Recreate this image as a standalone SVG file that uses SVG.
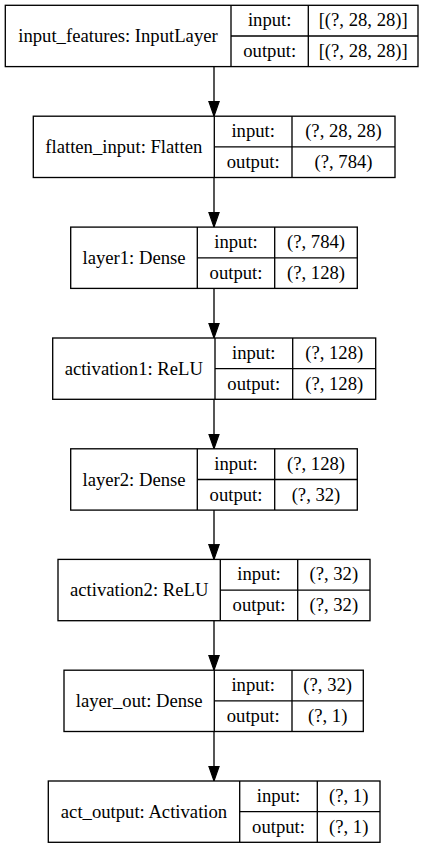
<svg xmlns="http://www.w3.org/2000/svg" width="428" height="848" viewBox="0 0 428 848">
<defs>
<style>
.box{fill:#fff;stroke:#000;stroke-width:1.33}
.ln{stroke:#000;stroke-width:1.33;fill:none}
text{font-family:"Liberation Serif","Times New Roman",serif;font-size:18.67px;fill:#000;text-anchor:middle}
</style>
<marker id="ah" markerUnits="userSpaceOnUse" markerWidth="16" markerHeight="12" refX="13.33" refY="4.67" orient="auto" viewBox="0 0 14 9.34">
<path d="M0,0 L13.33,4.67 L0,9.33 Z" fill="#000" stroke="#000" stroke-width="1"/>
</marker>
</defs>
<rect width="428" height="848" fill="#fff"/>
<g id="connectors">
<line class="ln" x1="214" y1="66.7" x2="214" y2="116.2" marker-end="url(#ah)"/>
<line class="ln" x1="214" y1="177.5" x2="214" y2="227.1" marker-end="url(#ah)"/>
<line class="ln" x1="214" y1="288.4" x2="214" y2="338" marker-end="url(#ah)"/>
<line class="ln" x1="214" y1="399.3" x2="214" y2="448.8" marker-end="url(#ah)"/>
<line class="ln" x1="214" y1="510.1" x2="214" y2="559.4" marker-end="url(#ah)"/>
<line class="ln" x1="214" y1="620.7" x2="214" y2="670.2" marker-end="url(#ah)"/>
<line class="ln" x1="214" y1="731.5" x2="214" y2="781" marker-end="url(#ah)"/>
</g>
<g id="input_features">
<rect class="box" x="5.3" y="5.3" width="412.7" height="61.3"/>
<line class="ln" x1="231" y1="5.3" x2="231" y2="66.6"/>
<line class="ln" x1="308.3" y1="5.3" x2="308.3" y2="66.6"/>
<line class="ln" x1="231" y1="36" x2="418" y2="36"/>
<text x="118" y="42.3">input_features: InputLayer</text>
<text x="269.7" y="26.3">input:</text>
<text x="269.7" y="57">output:</text>
<text x="363.2" y="26.3">[(?, 28, 28)]</text>
<text x="363.2" y="57">[(?, 28, 28)]</text>
</g>
<g id="flatten_input">
<rect class="box" x="33.3" y="116.2" width="361.7" height="61.3"/>
<line class="ln" x1="214.3" y1="116.2" x2="214.3" y2="177.5"/>
<line class="ln" x1="292" y1="116.2" x2="292" y2="177.5"/>
<line class="ln" x1="214.3" y1="146.9" x2="395" y2="146.9"/>
<text x="123.8" y="153.2">flatten_input: Flatten</text>
<text x="253.2" y="137.2">input:</text>
<text x="253.2" y="167.9">output:</text>
<text x="343.5" y="137.2">(?, 28, 28)</text>
<text x="343.5" y="167.9">(?, 784)</text>
</g>
<g id="layer1">
<rect class="box" x="70.7" y="227.1" width="286.6" height="61.3"/>
<line class="ln" x1="197.3" y1="227.1" x2="197.3" y2="288.4"/>
<line class="ln" x1="274.7" y1="227.1" x2="274.7" y2="288.4"/>
<line class="ln" x1="197.3" y1="257.8" x2="357.3" y2="257.8"/>
<text x="134" y="264.1">layer1: Dense</text>
<text x="236" y="248.1">input:</text>
<text x="236" y="278.8">output:</text>
<text x="316" y="248.1">(?, 784)</text>
<text x="316" y="278.8">(?, 128)</text>
</g>
<g id="activation1">
<rect class="box" x="52.7" y="338" width="323" height="61.3"/>
<line class="ln" x1="215" y1="338" x2="215" y2="399.3"/>
<line class="ln" x1="292.7" y1="338" x2="292.7" y2="399.3"/>
<line class="ln" x1="215" y1="368.7" x2="375.7" y2="368.7"/>
<text x="133.8" y="375">activation1: ReLU</text>
<text x="253.8" y="359">input:</text>
<text x="253.8" y="389.7">output:</text>
<text x="334.2" y="359">(?, 128)</text>
<text x="334.2" y="389.7">(?, 128)</text>
</g>
<g id="layer2">
<rect class="box" x="70.7" y="448.8" width="286.6" height="61.3"/>
<line class="ln" x1="197.3" y1="448.8" x2="197.3" y2="510.1"/>
<line class="ln" x1="274.7" y1="448.8" x2="274.7" y2="510.1"/>
<line class="ln" x1="197.3" y1="479.5" x2="357.3" y2="479.5"/>
<text x="134" y="485.8">layer2: Dense</text>
<text x="236" y="469.8">input:</text>
<text x="236" y="500.5">output:</text>
<text x="316" y="469.8">(?, 128)</text>
<text x="316" y="500.5">(?, 32)</text>
</g>
<g id="activation2">
<rect class="box" x="58" y="559.4" width="312" height="61.3"/>
<line class="ln" x1="220.3" y1="559.4" x2="220.3" y2="620.7"/>
<line class="ln" x1="297.7" y1="559.4" x2="297.7" y2="620.7"/>
<line class="ln" x1="220.3" y1="590.1" x2="370" y2="590.1"/>
<text x="139.2" y="596.4">activation2: ReLU</text>
<text x="259" y="580.4">input:</text>
<text x="259" y="611.1">output:</text>
<text x="333.8" y="580.4">(?, 32)</text>
<text x="333.8" y="611.1">(?, 32)</text>
</g>
<g id="layer_out">
<rect class="box" x="64" y="670.2" width="299.3" height="61.3"/>
<line class="ln" x1="214.3" y1="670.2" x2="214.3" y2="731.5"/>
<line class="ln" x1="292" y1="670.2" x2="292" y2="731.5"/>
<line class="ln" x1="214.3" y1="700.9" x2="363.3" y2="700.9"/>
<text x="139.2" y="707.2">layer_out: Dense</text>
<text x="253.2" y="691.2">input:</text>
<text x="253.2" y="721.9">output:</text>
<text x="327.7" y="691.2">(?, 32)</text>
<text x="327.7" y="721.9">(?, 1)</text>
</g>
<g id="act_output">
<rect class="box" x="48.3" y="781" width="331.7" height="61.3"/>
<line class="ln" x1="239.7" y1="781" x2="239.7" y2="842.3"/>
<line class="ln" x1="317.3" y1="781" x2="317.3" y2="842.3"/>
<line class="ln" x1="239.7" y1="811.7" x2="380" y2="811.7"/>
<text x="144" y="818">act_output: Activation</text>
<text x="278.5" y="802">input:</text>
<text x="278.5" y="832.7">output:</text>
<text x="348.7" y="802">(?, 1)</text>
<text x="348.7" y="832.7">(?, 1)</text>
</g>
</svg>
